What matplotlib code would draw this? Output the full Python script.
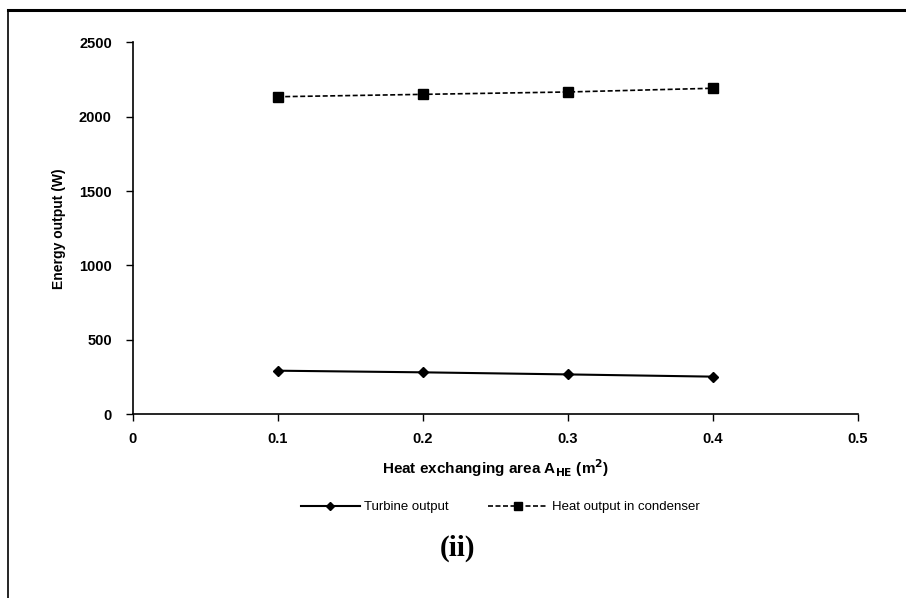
import matplotlib.pyplot as plt
from matplotlib.lines import Line2D

plt.rcParams['font.family'] = ['Liberation Sans', 'DejaVu Sans']

area = [0.1, 0.2, 0.3, 0.4]
turbine = [293, 282, 268, 253]
condenser = [2134, 2150, 2166, 2191]

fig = plt.figure(figsize=(9.06, 5.98), dpi=100)
ax = fig.add_axes([0.1464, 0.3072, 0.8006, 0.6221])

ax.plot(area, turbine, color='black', lw=1.5, marker='D', ms=5,
        label='Turbine output')
ax.plot(area, condenser, color='black', lw=1.2, ls=(0, (3, 1.5)), marker='s',
        ms=7, label='Heat output in condenser')

ax.set_xlim(0, 0.5)
ax.set_ylim(0, 2500)
ax.set_xticks([0, 0.1, 0.2, 0.3, 0.4, 0.5])
ax.set_xticklabels(['0', '0.1', '0.2', '0.3', '0.4', '0.5'])
ax.set_yticks([0, 500, 1000, 1500, 2000, 2500])
for s in ['top', 'right']:
    ax.spines[s].set_visible(False)
for s in ['left', 'bottom']:
    ax.spines[s].set_linewidth(1.2)
ax.tick_params(direction='out', length=5, width=1, labelsize=10.5)
ax.tick_params(axis='y', pad=10)
ax.tick_params(axis='x', pad=8)
for lbl in ax.get_xticklabels() + ax.get_yticklabels():
    lbl.set_fontweight('bold')

ax.set_xlabel('Heat exchanging area A$_{\\mathbf{HE}}$ (m$^{\\mathbf{2}}$)',
              fontsize=11, fontweight='bold', labelpad=8)
ax.set_ylabel('Energy output (W)', fontsize=10, fontweight='bold', labelpad=9)

fig.legend(loc='center', bbox_to_anchor=(0.552, 0.152), ncol=2, frameon=False,
           fontsize=9.5, handlelength=4.5, columnspacing=3, handletextpad=0.3,
           markerscale=0.8)

fig.text(0.505, 0.083, '(ii)', ha='center', va='center', fontsize=21,
         fontweight='bold', family='Liberation Serif')

# outer frame: only the top and left edges show in the crop
fig.add_artist(Line2D([0.009, 1], [0.984, 0.984], color='black', lw=2.2))
fig.add_artist(Line2D([0.009, 0.009], [0, 0.984], color='black', lw=1.2))

fig.savefig('out.png', dpi=100)
